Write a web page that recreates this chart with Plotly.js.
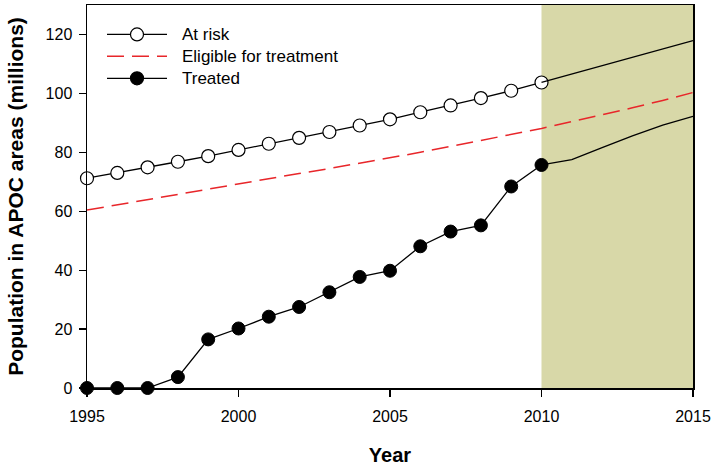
<!DOCTYPE html>
<html>
<head>
<meta charset="utf-8">
<script src="https://cdn.plot.ly/plotly-3.0.1.min.js"></script>
<style>html,body{margin:0;padding:0;background:#fff;}#chart{width:715px;height:466px;}</style>
</head>
<body>
<div id="chart"></div>
<script>
const years = [1995,1996,1997,1998,1999,2000,2001,2002,2003,2004,2005,2006,2007,2008,2009,2010,2011,2012,2013,2014,2015];
const atRisk = [71.2,73.0,74.9,76.8,78.7,80.8,82.9,84.9,86.9,89.1,91.2,93.6,95.9,98.4,100.9,103.7,106.5,109.3,112.2,115.0,117.9];
const eligible = [60.4,62.2,63.9,65.7,67.5,69.3,71.0,72.8,74.5,76.3,78.1,80.0,82.0,84.0,86.0,88.1,90.4,92.7,95.1,97.6,100.3];
const treated = [0,0,0,3.7,16.5,20.2,24.2,27.5,32.5,37.7,39.8,48.1,53.1,55.2,68.4,75.7,77.5,81.6,85.6,89.2,92.2];
const seriesNames = ['At risk', 'Eligible for treatment', 'Treated'];
const lastObservedYear = 2010;
const projectionEnd = 2015;
const yTicks = [0,20,40,60,80,100,120];
const xTicks = [1995,2000,2005,2010,2015];

const iObs = years.indexOf(lastObservedYear);
const obsYears = years.slice(0, iObs + 1);
const projYears = years.slice(iObs);

const blackLine = {color: '#000', width: 1.3};
const redDash = {color: '#e8262a', width: 1.5, dash: '17px,8px'};

const traces = [
  {x: obsYears, y: atRisk.slice(0, iObs + 1), name: seriesNames[0], mode: 'lines+markers', type: 'scatter',
   line: blackLine, marker: {symbol: 'circle', size: 13, color: '#fff', line: {color: '#000', width: 1.2}}, cliponaxis: false},
  {x: projYears, y: atRisk.slice(iObs), name: seriesNames[0] + ' (projected)', mode: 'lines', type: 'scatter', line: blackLine},
  {x: years, y: eligible, name: seriesNames[1], mode: 'lines', type: 'scatter', line: redDash},
  {x: obsYears, y: treated.slice(0, iObs + 1), name: seriesNames[2], mode: 'lines+markers', type: 'scatter',
   line: blackLine, marker: {symbol: 'circle', size: 13, color: '#000', line: {color: '#000', width: 1}}, cliponaxis: false},
  {x: projYears, y: treated.slice(iObs), name: seriesNames[2] + ' (projected)', mode: 'lines', type: 'scatter', line: blackLine}
];

// Plot area geometry (pixels) for the hand-drawn legend key
const W = 715, H = 466, M = {l: 87, r: 22, t: 4.5, b: 77.5};
const pw = W - M.l - M.r, ph = H - M.t - M.b;
const px = v => (v - M.l) / pw;
const py = v => (H - M.b - v) / ph;

const legendRows = [34, 56, 78];
const keyX0 = 107, keyX1 = 167, keyMid = 137, textX = 180, r = 6.5;
const keyStyles = [
  {line: blackLine, marker: {fill: '#fff'}},
  {line: redDash, marker: null},
  {line: blackLine, marker: {fill: '#000'}}
];

const shapes = [{type: 'rect', xref: 'x', yref: 'paper', x0: lastObservedYear, x1: projectionEnd, y0: 0, y1: 1,
                 fillcolor: '#d8d8a8', line: {width: 0}, layer: 'below'}];
const annotations = [];
seriesNames.forEach((nm, i) => {
  const yy = legendRows[i];
  shapes.push({type: 'line', xref: 'paper', yref: 'paper', x0: px(keyX0), x1: px(keyX1), y0: py(yy), y1: py(yy),
               line: keyStyles[i].line, layer: 'above'});
  if (keyStyles[i].marker) {
    shapes.push({type: 'circle', xref: 'paper', yref: 'paper', x0: px(keyMid - r), x1: px(keyMid + r),
                 y0: py(yy + r), y1: py(yy - r), fillcolor: keyStyles[i].marker.fill,
                 line: {color: '#000', width: 1.2}, layer: 'above'});
  }
  annotations.push({xref: 'paper', yref: 'paper', x: px(textX), y: py(yy), xanchor: 'left', yanchor: 'middle',
                    text: nm, showarrow: false, font: {size: 17, color: '#000'}});
});

const layout = {
  width: W, height: H,
  margin: M,
  paper_bgcolor: '#fff', plot_bgcolor: '#fff',
  font: {family: 'Liberation Sans, Arial, sans-serif', size: 16, color: '#000'},
  showlegend: false,
  xaxis: {range: [1995, 2015], tickvals: xTicks, ticks: 'outside', ticklen: 7, tickwidth: 1.2, tickcolor: '#000',
          ticklabelstandoff: 6,
          showline: true, linecolor: '#000', linewidth: 1.5, mirror: true, showgrid: false, zeroline: false,
          title: {text: '<b>Year</b>', font: {size: 20}, standoff: 24}},
  yaxis: {range: [0, 130], tickvals: yTicks, ticks: 'outside', ticklen: 7, tickwidth: 1.2, tickcolor: '#000',
          ticklabelstandoff: 3,
          showline: true, linecolor: '#000', linewidth: 1.5, mirror: true, showgrid: false, zeroline: false,
          title: {text: '<b>Population in APOC areas (millions)</b>', font: {size: 21}, standoff: 16}},
  shapes: shapes,
  annotations: annotations
};

Plotly.newPlot('chart', traces, layout, {displayModeBar: false, staticPlot: true});
</script>
</body>
</html>
